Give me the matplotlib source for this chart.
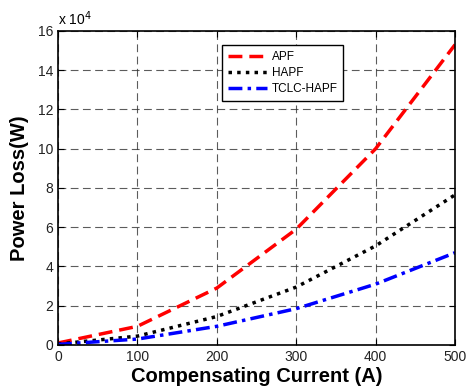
import matplotlib
matplotlib.use('Agg')
import matplotlib.pyplot as plt
import numpy as np

plt.rcParams['font.family'] = ['Liberation Sans', 'DejaVu Sans']

current = [0, 100, 200, 300, 400, 500]
apf = [0.1, 0.95, 2.9, 5.9, 10.0, 15.3]
hapf = [0.05, 0.45, 1.45, 2.95, 5.05, 7.65]
tclc = [0.03, 0.3, 0.95, 1.85, 3.1, 4.7]

fig = plt.figure(figsize=(4.69, 3.92), dpi=100)
ax = fig.add_axes([0.1237, 0.120, 0.8465, 0.801])

ax.plot(current, apf, color='red', linestyle=(0, (4, 2)), linewidth=2.5, label='APF')
ax.plot(current, hapf, color='black', linestyle=(0, (1, 1.5)), linewidth=2.5, label='HAPF')
ax.plot(current, tclc, color='blue', linestyle=(0, (4, 1.5, 1, 1.5)), linewidth=2.5, label='TCLC-HAPF')

ax.set_xlim(0, 500)
ax.set_ylim(0, 16)
ax.set_xticks([0, 100, 200, 300, 400, 500])
ax.set_yticks(np.arange(0, 17, 2))
ax.grid(True, color='#333333', linestyle=(0, (7, 4)), linewidth=0.8, alpha=0.8)
ax.tick_params(axis='both', direction='in', labelsize=10, length=4, top=True, right=True,
               labelcolor='#222222')
for s in ax.spines.values():
    s.set_linewidth(1.2)

ax.set_xlabel('Compensating Current (A)', fontsize=14.5, fontweight='bold', labelpad=2)
ax.set_ylabel('Power Loss(W)', fontsize=14.5, fontweight='bold', labelpad=6)
ax.text(0.0, 1.01, r'x 10$^4$', transform=ax.transAxes, fontsize=10, va='bottom')

leg = ax.legend(loc='upper left', bbox_to_anchor=(0.413, 0.955), borderaxespad=0,
                fontsize=8.5, frameon=True, fancybox=False, edgecolor='black',
                framealpha=1, handlelength=3.3, handletextpad=0.4,
                borderpad=0.5, labelspacing=0.35)
leg.get_frame().set_linewidth(1.0)

fig.savefig('out.png', dpi=100)
